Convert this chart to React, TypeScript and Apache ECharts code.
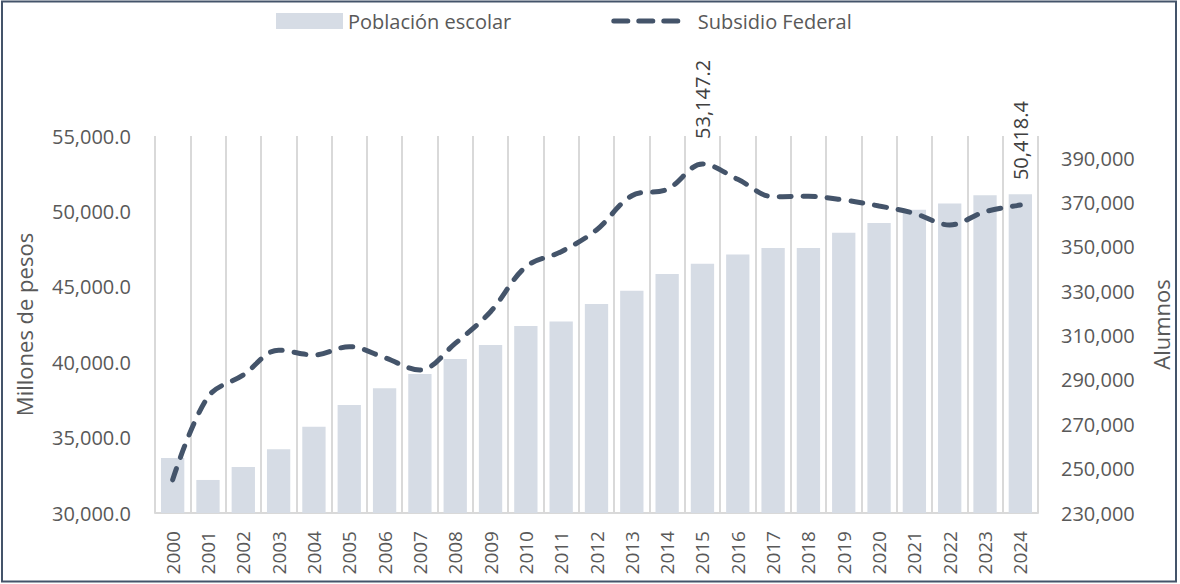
import React, { useEffect, useRef } from "react";
import * as echarts from "echarts";

const years = [
  "2000", "2001", "2002", "2003", "2004", "2005", "2006", "2007", "2008", "2009",
  "2010", "2011", "2012", "2013", "2014", "2015", "2016", "2017", "2018", "2019",
  "2020", "2021", "2022", "2023", "2024",
];
const poblacion = [
  254800, 244900, 250700, 258700, 268900, 278700, 286200, 292700, 299400, 305800,
  314300, 316300, 324200, 330200, 337800, 342400, 346600, 349500, 349500, 356400,
  360800, 366800, 369600, 373300, 373700,
];
const subsidio = [
  32200, 37700, 39150, 40800, 40480, 41030, 40300, 39480, 41250, 43350,
  46330, 47330, 48770, 51040, 51460, 53147.2, 52130, 50975, 51000, 50755,
  50360, 49870, 49100, 49980, 50418.4,
];
const labeledYears = ["2015", "2024"];

const FONT = "'Open Sans', 'Noto Sans', sans-serif";
const TEXT = "#595959";
const LINE = "#44546A";

export default function App() {
  const ref = useRef<HTMLDivElement>(null);
  useEffect(() => {
    if (!ref.current) return;
    const chart = echarts.init(ref.current, null, { renderer: "svg" });
    const fmt1 = (v: number) =>
      v.toLocaleString("en-US", { minimumFractionDigits: 1, maximumFractionDigits: 1 });
    chart.setOption({
      animation: false,
      textStyle: { fontFamily: FONT },
      graphic: [
        {
          type: "rect",
          shape: { x: 2, y: 1.5, width: 1174, height: 580 },
          style: { fill: "none", stroke: LINE, lineWidth: 2 },
          silent: true,
        },
      ],
      legend: {
        left: 271,
        top: 6,
        itemWidth: 67,
        itemHeight: 16,
        itemGap: 100,
        textStyle: { fontSize: 20, color: TEXT, fontFamily: FONT },
        data: [
          { name: "Población escolar", icon: "rect" },
          {
            name: "Subsidio Federal",
            itemStyle: { opacity: 0 },
            lineStyle: { color: LINE, width: 5, type: [14, 11], cap: "round" },
            textStyle: { padding: [0, 0, 0, 12] },
          },
        ],
      },
      grid: { left: 155, right: 137, top: 136, bottom: 71, containLabel: false },
      xAxis: {
        type: "category",
        data: years,
        boundaryGap: true,
        axisLine: { show: true, lineStyle: { color: "#D9D9D9", width: 2 } },
        axisTick: { show: false },
        splitLine: { show: true, lineStyle: { color: "#D9D9D9", width: 2 } },
        axisLabel: {
          rotate: 90,
          margin: 18,
          fontSize: 19,
          color: TEXT,
          fontFamily: FONT,
          interval: 0,
        },
      },
      yAxis: [
        {
          type: "value",
          min: 30000,
          max: 55000,
          interval: 5000,
          name: "Millones de pesos",
          nameLocation: "middle",
          nameRotate: 90,
          nameGap: 120,
          nameTextStyle: { fontSize: 22, color: TEXT, fontFamily: FONT },
          axisLine: { show: false },
          axisTick: { show: false },
          splitLine: { show: false },
          axisLabel: {
            fontSize: 20,
            color: TEXT,
            margin: 24,
            fontFamily: FONT,
            formatter: (v: number) => fmt1(v),
          },
        },
        {
          type: "value",
          min: 230000,
          max: 400000,
          interval: 10000,
          position: "right",
          name: "Alumnos",
          nameLocation: "middle",
          nameRotate: 90,
          nameGap: 112,
          nameTextStyle: { fontSize: 22, color: TEXT, fontFamily: FONT },
          axisLine: { show: false },
          axisTick: { show: false },
          splitLine: { show: false },
          axisLabel: {
            fontSize: 20,
            color: TEXT,
            margin: 23,
            fontFamily: FONT,
            showMaxLabel: false,
            formatter: (v: number) =>
              (v - 230000) % 20000 === 0 && v < 400000 ? v.toLocaleString("en-US") : "",
          },
        },
      ],
      series: [
        {
          name: "Población escolar",
          type: "bar",
          yAxisIndex: 1,
          data: poblacion,
          barWidth: "66%",
          itemStyle: { color: "#D6DCE5" },
          z: 1,
        },
        {
          name: "Subsidio Federal",
          type: "line",
          yAxisIndex: 0,
          smooth: 0.35,
          symbol: "circle",
          symbolSize: 0.01,
          showSymbol: true,
          showAllSymbol: true,
          data: subsidio.map((v, i) => ({
            value: v,
            label: {
              show: labeledYears.includes(years[i]),
            },
          })),
          label: {
            show: false,
            position: "top",
            rotate: 90,
            align: "left",
            verticalAlign: "middle",
            distance: 25,
            fontSize: 20,
            color: "#404040",
            fontFamily: FONT,
            formatter: (p: any) => fmt1(p.value),
          },
          lineStyle: { color: LINE, width: 5, type: [12, 12], cap: "round" },
          itemStyle: { color: LINE },
          z: 3,
        },
      ],
    });
    return () => chart.dispose();
  }, []);
  return (
    <div
      ref={ref}
      style={{ position: "absolute", left: 0, top: 0, width: 1180, height: 584, background: "#fff" }}
    />
  );
}
